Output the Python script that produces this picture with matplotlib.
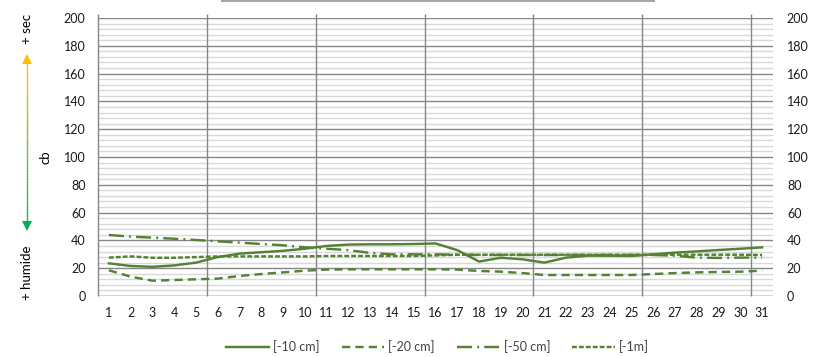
import numpy as np
import matplotlib.pyplot as plt
from matplotlib.collections import LineCollection

plt.rcParams['font.family'] = ['Lato', 'DejaVu Sans']

days = list(range(1, 32))
s10 = [23.5, 21.6, 21, 22, 24, 28, 30.5, 31.5, 32.5, 34, 36, 37, 37.2, 37.2, 37.4,
       37.8, 33, 24.8, 27.5, 26.4, 24, 27.6, 29, 29, 28.8, 30, 31.2, 32.1, 33.1, 34, 35]
s20 = [18.5, 13.9, 11, 11.5, 12, 12.5, 14.4, 15.8, 17, 18.2, 19, 19.2, 19.2, 19.2, 19.2,
       19.2, 19, 18, 17.5, 16.5, 15.1, 15.1, 15.1, 15.1, 15.1, 15.8, 16.5, 17, 17.3, 17.5, 18.2]
s50 = [43.9, 42.7, 42, 41.2, 40.3, 39.3, 38.4, 37.4, 36.5, 35, 34, 33, 31, 30, 30,
       30, 29.7, 29.5, 29.5, 29.5, 29.5, 29.5, 29.5, 29.5, 29.5, 29.5, 29, 27.6, 27.4, 27.6, 27.6]
s1m = [27.6, 28.5, 27.5, 27.5, 28, 28.5, 28.5, 28.5, 28.5, 28.5, 28.8, 28.8, 28.8, 28.8, 28.8,
       29.2, 29.7, 29.7, 29.7, 29.7, 29.7, 29.7, 29.7, 29.7, 29.7, 29.7, 29.7, 29.7, 29.7, 29.7, 29.5]
labels = ['[-10 cm]', '[-20 cm]', '[-50 cm]', '[-1m]']

green = '#548235'
W, H = 832, 357
fig = plt.figure(figsize=(W / 100, H / 100), dpi=100)
ax = fig.add_axes([98 / W, 1 - 296 / H, (773 - 98) / W, (296 - 18) / H])

lw = 1.75
ax.plot(days, s10, color=green, lw=lw, label=labels[0], zorder=5)
ax.plot(days, s20, color=green, lw=lw, dashes=(3.4, 2.1), label=labels[1], zorder=5)
ax.plot(days, s50, color=green, lw=lw, dashes=(6.2, 2.1, 0.8, 2.1), label=labels[2], zorder=5)
ax.plot(days, s1m, color=green, lw=lw, dashes=(2.0, 0.85), label=labels[3], zorder=5)

ax.set_xlim(0.5, 31.5)
ax.set_ylim(0, 200)
ax.set_xticks(days)
ax.set_yticks(range(0, 201, 20))
ax.set_yticks(range(0, 201, 4), minor=True)
ax.tick_params(axis='both', which='both', length=0, labelsize=9, colors='#1a1a1a')
ax.tick_params(axis='y', pad=9)
ax.tick_params(axis='x', pad=8)
ax.grid(which='major', axis='y', color='#868686', lw=1.0, zorder=1)
ax.grid(which='minor', axis='y', color='#d9d9d9', lw=1.0, zorder=0)
ax.vlines([0.5, 5.5, 10.5, 15.5, 20.5, 25.5, 30.5], 0, 203, colors='#868686',
          linestyles='solid', lw=1.0, clip_on=False, zorder=2)
for sp in ax.spines.values():
    sp.set_visible(False)
ax.axhline(0, color='#868686', lw=1.0, zorder=2)

ax2 = ax.twinx()
ax2.set_ylim(0, 200)
ax2.set_yticks(range(0, 201, 20))
ax2.tick_params(axis='y', length=0, labelsize=9, pad=10, colors='#1a1a1a')
for sp in ax2.spines.values():
    sp.set_visible(False)

fig.legend(loc='center', bbox_to_anchor=(0.526, 1 - 347 / H), ncol=4, frameon=False,
           fontsize=9, handlelength=3.4, handletextpad=0.35, columnspacing=1.75,
           labelcolor='#404040')

# decorations in pixel coordinates
ov = fig.add_axes([0, 0, 1, 1], facecolor='none')
ov.set_xlim(0, W)
ov.set_ylim(H, 0)
ov.axis('off')
ov.plot([222, 654], [0.8, 0.8], color='#a6a6a6', lw=1.5)

ys = np.linspace(60, 225, 60)
pts = np.array([[27.3 * np.ones_like(ys), ys]]).T.reshape(-1, 1, 2)
segs = np.concatenate([pts[:-1], pts[1:]], axis=1)
cmap = plt.matplotlib.colors.LinearSegmentedColormap.from_list('g', ['#ffc000', '#00b050'])
lc = LineCollection(segs, colors=cmap(np.linspace(0, 1, len(segs))), lw=1.0)
ov.add_collection(lc)
ov.plot(27.3, 59, marker='^', color='#ffc000', ms=7, mew=0)
ov.plot(27.3, 226, marker='v', color='#00b050', ms=7, mew=0)
ov.text(27.3, 29, '+ sec', rotation=90, ha='center', va='center', fontsize=9.5)
ov.text(27.3, 273, '+ humide', rotation=90, ha='center', va='center', fontsize=9.5)
ov.text(45, 157, 'cb', rotation=90, ha='center', va='center', fontsize=9.5)

fig.savefig('out.png', dpi=100)
